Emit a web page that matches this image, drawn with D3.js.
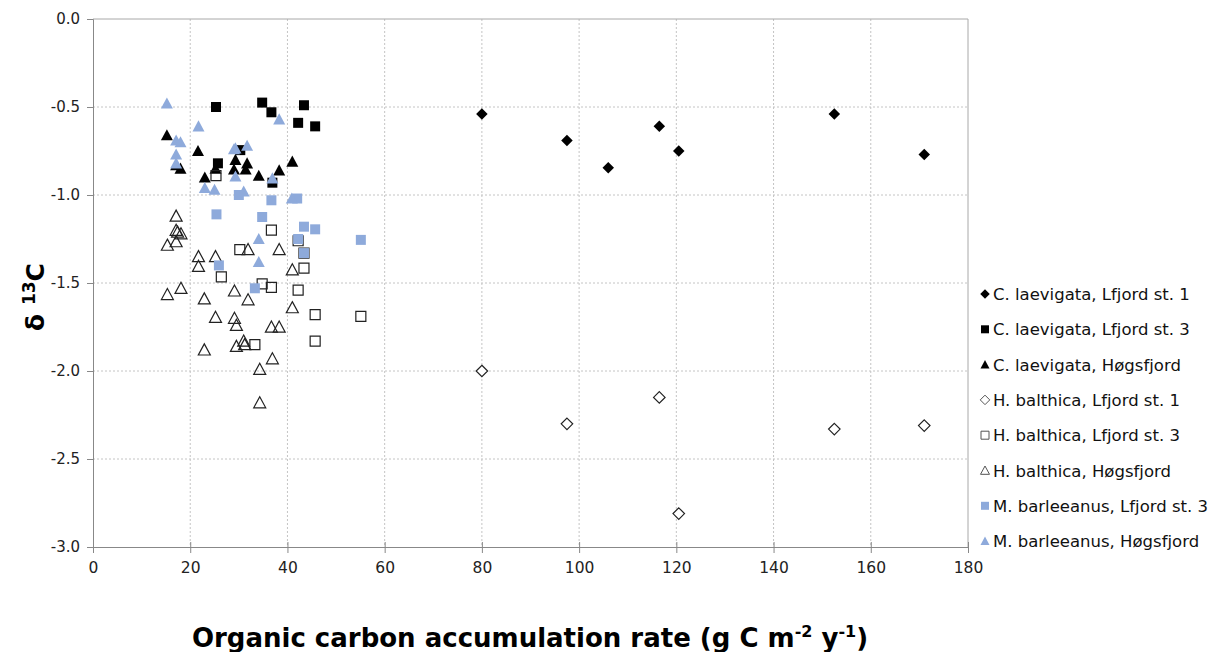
<html>
<head>
<style>
  body { margin: 0; background: #fff; }
  svg { display: block; font-family: "DejaVu Sans", Verdana, sans-serif; }
</style>
</head>
<body>
<script src="https://cdn.jsdelivr.net/npm/d3@7"></script>
<script>
var width = 1225, height = 652;

// series: [x (g C m-2 y-1), d13C]
let clLf1 = [[80,-0.54],[97.5,-0.69],[106,-0.845],[116.5,-0.61],[120.5,-0.75],[152.5,-0.54],[171,-0.77]];
let clLf3 = [[25.3,-0.50],[34.8,-0.475],[36.7,-0.53],[43.4,-0.49],[42.2,-0.59],[45.7,-0.61],[25.7,-0.82],[30.3,-0.745],[36.9,-0.93]];
let clHog = [[15.2,-0.66],[17.1,-0.83],[18.0,-0.85],[21.6,-0.75],[23.0,-0.90],[25.2,-0.85],[29.3,-0.80],[29.0,-0.855],
             [31.7,-0.82],[31.4,-0.855],[34.1,-0.89],[38.3,-0.86],[41.0,-0.81]];
let hbLf1 = [[80,-2.0],[97.5,-2.3],[116.5,-2.15],[120.5,-2.81],[152.5,-2.33],[171,-2.31]];
let hbLf3 = [[25.3,-0.89],[36.7,-1.20],[30.2,-1.31],[26.4,-1.465],[42.2,-1.26],[43.4,-1.33],[43.4,-1.415],[34.8,-1.505],
             [36.7,-1.525],[42.2,-1.54],[45.7,-1.68],[55.1,-1.69],[33.3,-1.85],[45.7,-1.83]];
let hbHog = [[17.1,-1.12],[17.1,-1.20],[17.4,-1.21],[18.1,-1.22],[17.1,-1.265],[15.3,-1.285],[21.7,-1.35],[25.2,-1.35],
             [21.7,-1.405],[31.9,-1.31],[38.3,-1.31],[41.0,-1.425],[18.1,-1.53],[15.3,-1.565],[22.9,-1.59],[29.1,-1.545],
             [31.9,-1.595],[41.0,-1.64],[25.2,-1.695],[29.1,-1.70],[29.5,-1.74],[36.7,-1.75],[38.3,-1.75],[31.0,-1.83],
             [31.2,-1.85],[29.5,-1.86],[22.9,-1.88],[36.9,-1.93],[34.3,-1.99],[34.3,-2.18]];
let mbLf3 = [[25.4,-1.11],[30.0,-1.00],[36.7,-1.03],[42.0,-1.02],[34.8,-1.125],[43.4,-1.18],[45.7,-1.195],[42.2,-1.25],
             [43.4,-1.33],[55.1,-1.255],[25.9,-1.40],[33.3,-1.53]];
let mbHog = [[15.2,-0.48],[17.1,-0.69],[18.0,-0.70],[21.7,-0.61],[17.1,-0.77],[17.1,-0.82],[23.0,-0.96],[25.0,-0.97],
             [29.3,-0.735],[29.0,-0.74],[31.7,-0.72],[29.3,-0.895],[31.0,-0.98],[36.9,-0.905],[38.3,-0.57],[34.1,-1.25],
             [34.1,-1.38],[40.9,-1.02]];

let seriesNames = ["C. laevigata, Lfjord st. 1","C. laevigata, Lfjord st. 3","C. laevigata, Høgsfjord",
                   "H. balthica, Lfjord st. 1","H. balthica, Lfjord st. 3","H. balthica, Høgsfjord",
                   "M. barleeanus, Lfjord st. 3","M. barleeanus, Høgsfjord"];
let xTicks = [0,20,40,60,80,100,120,140,160,180];
let yTicks = [0,-0.5,-1,-1.5,-2,-2.5,-3];

let blue = "#8eaadb";
let styles = [
  {shape:"diamond", fill:"#000", stroke:"none"},
  {shape:"square", fill:"#000", stroke:"none"},
  {shape:"triangle", fill:"#000", stroke:"none"},
  {shape:"diamond", fill:"#fff", stroke:"#222"},
  {shape:"square", fill:"none", stroke:"#222"},
  {shape:"triangle", fill:"none", stroke:"#222"},
  {shape:"square", fill:blue, stroke:"none"},
  {shape:"triangle", fill:blue, stroke:"none"}
];
let allData = [clLf1, clLf3, clHog, hbLf1, hbLf3, hbHog, mbLf3, mbHog];

function shapePath(shape, s) {
  let h = s/2;
  if (shape == "diamond") return `M0,${-h}L${h},0L0,${h}L${-h},0Z`;
  if (shape == "square") return `M${-h},${-h}H${h}V${h}H${-h}Z`;
  return `M0,${-h}L${h},${h*0.85}L${-h},${h*0.85}Z`;
}
let markSize = {diamond:11.5, square:10, triangle:12};

var svg = d3.select("body").append("svg")
  .attr("width", width).attr("height", height);

let pLeft = 93, pRight = 968, pTop = 19, pBottom = 547;

var xscale = d3.scaleLinear().domain([0,180]).range([pLeft,pRight]);
var yscale = d3.scaleLinear().domain([-3,0]).range([pBottom,pTop]);

// grid
svg.append("g").selectAll("line").data(yTicks.slice(1,-1)).enter().append("line")
  .attr("x1", pLeft).attr("x2", pRight)
  .attr("y1", d => yscale(d)).attr("y2", d => yscale(d))
  .attr("stroke", "#c4c4c4").attr("stroke-dasharray", "2,2");
svg.append("g").selectAll("line").data(xTicks.slice(1,-1)).enter().append("line")
  .attr("y1", pTop).attr("y2", pBottom)
  .attr("x1", d => xscale(d)).attr("x2", d => xscale(d))
  .attr("stroke", "#c4c4c4").attr("stroke-dasharray", "2,2");

// frame top/right
svg.append("path")
  .attr("d", `M${pLeft},${pTop}H${pRight}V${pBottom}`)
  .attr("fill", "none").attr("stroke", "#a8a8a8");

// axes
let yAxis = svg.append("g")
  .attr("transform", `translate(${pLeft},0)`)
  .call(d3.axisLeft(yscale).tickValues(yTicks).tickFormat(d3.format(".1f")).tickSize(6).tickPadding(7));
let xAxis = svg.append("g")
  .attr("transform", `translate(0,${pBottom})`)
  .call(d3.axisBottom(xscale).tickValues(xTicks).tickSize(6).tickPadding(9));
xAxis.selectAll(".tick line").attr("y1", -5);
[xAxis, yAxis].forEach(a => {
  a.select(".domain").attr("stroke", "#888");
  a.selectAll(".tick line").attr("stroke", "#888");
  a.selectAll("text").attr("fill", "#222")
    .style("font-family", "'DejaVu Sans', Verdana, sans-serif");
});
yAxis.selectAll("text").style("font-size", "15px")
  .text(d => d == 0 ? "0.0" : d3.format(".1f")(d).replace("−","-"));
xAxis.selectAll("text").style("font-size", "15.5px");

// points
allData.forEach((data, i) => {
  let st = styles[i];
  svg.append("g").selectAll("path").data(data).enter().append("path")
    .attr("d", shapePath(st.shape, markSize[st.shape]))
    .attr("transform", d => `translate(${xscale(d[0])},${yscale(d[1])})`)
    .attr("fill", st.fill).attr("stroke", st.stroke).attr("stroke-width", 1.2);
});

// legend
let leg = svg.append("g").attr("transform", "translate(985,294)");
seriesNames.forEach((name, i) => {
  let st = styles[i];
  let row = leg.append("g").attr("transform", `translate(0,${i*35.3})`);
  let sz = st.shape == "triangle" ? 9 : (st.shape == "diamond" ? 9.5 : 8);
  row.append("path").attr("d", shapePath(st.shape, sz))
    .attr("fill", st.fill).attr("stroke", st.stroke == "none" ? "none" : "#555").attr("stroke-width", 1);
  row.append("text").attr("x", 8).attr("y", 6).text(name)
    .style("font-size", "16.5px").attr("fill", "#111");
});

// titles
svg.append("text").attr("x", 530).attr("y", 647).attr("text-anchor", "middle")
  .style("font-size", "26px").style("font-weight", "bold")
  .html('Organic carbon accumulation rate (g C m<tspan dy="-10" font-size="16px">-2</tspan><tspan dy="10"> y</tspan><tspan dy="-10" font-size="16px">-1</tspan><tspan dy="10">)</tspan>');
svg.append("text").attr("transform", "translate(44,297) rotate(-90)").attr("text-anchor", "middle")
  .style("font-size", "25px").style("font-weight", "bold")
  .html('δ <tspan dy="-9" font-size="17px">13</tspan><tspan dy="9">C</tspan>');
</script>
</body>
</html>
